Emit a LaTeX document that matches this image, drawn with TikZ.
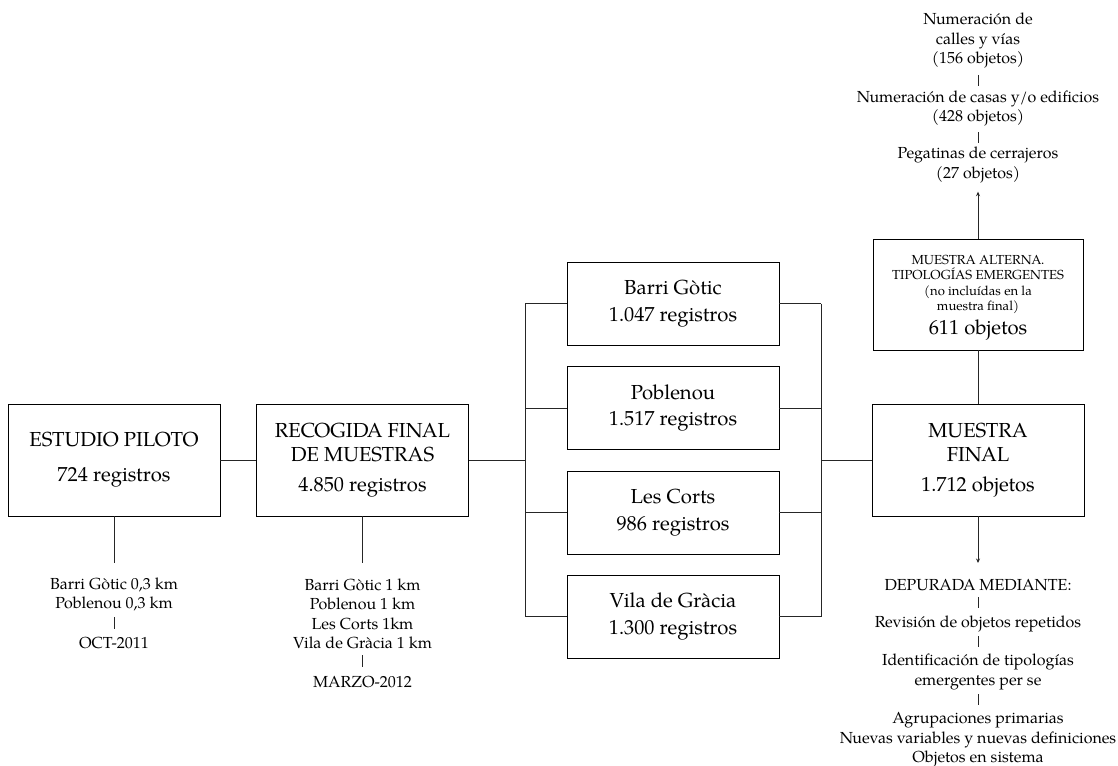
\documentclass[tikz,border=0pt]{standalone}
\usepackage{fontspec}
\setmainfont{TeX Gyre Pagella}
\usetikzlibrary{arrows.meta}
\tikzset{
  box/.style={draw, line width=0.9pt, minimum width=212pt, minimum height=112pt, inner sep=0pt, align=center, font=\fontsize{20.3}{23.5}\selectfont},
  dbox/.style={box, minimum height=83pt},
  small/.style={inner sep=0pt, align=center, font=\fontsize{16}{19.5}\selectfont},
  tiny/.style={inner sep=0pt, align=center, font=\fontsize{13.1}{15.3}\selectfont},
  conn/.style={line width=0.8pt, black!85},
  arr/.style={conn, -{Stealth[length=4.5pt,width=4pt]}},
}
\begin{document}
\begin{tikzpicture}[x=1pt,y=-1pt]
\useasboundingbox (0,0) rectangle (1118,765);
% main boxes
\node[box] (ep) at (114,460) {ESTUDIO PILOTO\\[11.5pt]724 registros};
\node[box] (rf) at (362.5,460) {RECOGIDA FINAL\\DE MUESTRAS\\[6.5pt]4.850 registros};
\node[dbox] (bg) at (673,303.5) {Barri Gòtic\\[3pt]1.047 registros};
\node[dbox] (pn) at (673,408) {Poblenou\\[3pt]1.517 registros};
\node[dbox] (lc) at (673,512.5) {Les Corts\\[3pt]986 registros};
\node[dbox] (vg) at (673,616.5) {Vila de Gràcia\\[3pt]1.300 registros};
\node[box] (mf) at (978,460) {MUESTRA\\FINAL\\[6.5pt]1.712 objetos};
\node[box, minimum width=210pt, minimum height=111pt] (alt) at (978,294.5) {};
\node[tiny] (alt1) at (978,284.5) {MUESTRA ALTERNA.\\TIPOLOGÍAS EMERGENTES\\(no incluídas en la\\muestra final)};
\node[inner sep=0pt, font=\fontsize{20.3}{24}\selectfont] (alt2) at (978,330) {611 objetos};
% bus coordinates
\coordinate (bl) at (525,460);
\coordinate (br) at (821,460);
% connectors
\draw[conn] (ep.east) -- (rf.west);
\draw[conn] (rf.east) -- (bl);
\draw[conn] (bg.west -| bl) -- (vg.west -| bl);
\foreach \n in {bg,pn,lc,vg} {
  \draw[conn] (\n.west -| bl) -- (\n.west);
  \draw[conn] (\n.east) -- (\n.east -| br);
}
\draw[conn] (bg.east -| br) -- (vg.east -| br);
\draw[conn] (br) -- (mf.west);
\draw[conn] (mf.north) -- (alt.south);
% left sub-texts
\node[small] (l1) at (114,594.5) {Barri Gòtic 0,3 km\\Poblenou 0,3 km};
\node[small] (l2) at (114,642.7) {OCT-2011};
\draw[conn, shorten >=31.5pt] (ep.south) -- (l1.center);
\draw[conn, shorten <=22.5pt, shorten >=13.7pt] (l1.center) -- (l2.center);
\node[small] (r1) at (362.5,613.8) {Barri Gòtic 1 km\\Poblenou 1 km\\Les Corts 1km\\Vila de Gràcia 1 km};
\node[small] (r2) at (362.5,681.7) {MARZO-2012};
\draw[conn, shorten >=50.8pt] (rf.south) -- (r1.center);
\draw[conn, shorten <=41.2pt, shorten >=14.7pt] (r1.center) -- (r2.center);
% top right
\node[small] (t1) at (978,40.5) {Numeración de\\calles y vías\\(156 objetos)};
\node[small] (t2) at (978,108.3) {Numeración de casas y/o edificios\\(428 objetos)};
\node[small] (t3) at (978,165) {Pegatinas de cerrajeros\\(27 objetos)};
\draw[conn, shorten <=34.5pt, shorten >=22.3pt] (t1.center) -- (t2.center);
\draw[conn, shorten <=23.7pt, shorten >=22pt] (t2.center) -- (t3.center);
\draw[arr, shorten >=26.7pt] (alt.north) -- (t3.center);
% bottom right
\node[small] (d1) at (978,585) {DEPURADA MEDIANTE:};
\node[small] (d2) at (978,624) {Revisión de objetos repetidos};
\node[small] (d3) at (978,671.7) {Identificación de tipologías\\emergentes per se};
\node[small] (d4) at (978,739.8) {Agrupaciones primarias\\Nuevas variables y nuevas definiciones\\Objetos en sistema};
\draw[arr, shorten >=22pt] (mf.south) -- (d1.center);
\draw[conn, shorten <=12pt, shorten >=16pt] (d1.center) -- (d2.center);
\draw[conn, shorten <=12pt, shorten >=24.7pt] (d2.center) -- (d3.center);
\draw[conn, shorten <=22.3pt, shorten >=34.8pt] (d3.center) -- (d4.center);
\end{tikzpicture}
\end{document}
